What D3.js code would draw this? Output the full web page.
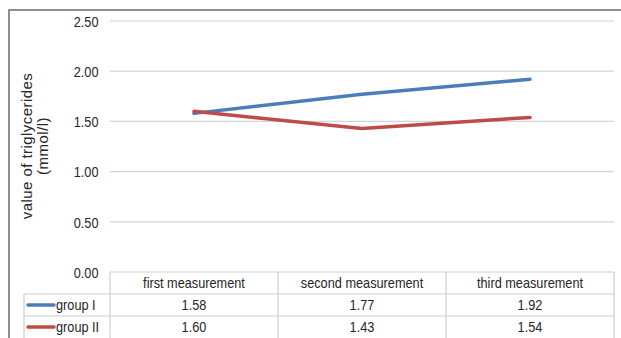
<!DOCTYPE html>
<html>
<head>
<meta charset="utf-8">
<script src="https://cdn.jsdelivr.net/npm/d3@7"></script>
<style>
  html, body { margin: 0; padding: 0; background: #fff; }
  svg { display: block; font-family: "Liberation Sans", Arial, sans-serif; }
</style>
</head>
<body>
<svg id="chart" width="621" height="338"></svg>
<script>
const categories = ["first measurement", "second measurement", "third measurement"];
const seriesNames = ["group I", "group II"];
const groupI = [1.58, 1.77, 1.92];
const groupII = [1.60, 1.43, 1.54];
const yTicks = [0, 0.5, 1.0, 1.5, 2.0, 2.5];
const colors = ["#4a7ebb", "#be4b48"];
const yTitle = ["value of triglycerides", "(mmol/l)"];

const series = [
  { name: seriesNames[0], values: groupI, color: colors[0] },
  { name: seriesNames[1], values: groupII, color: colors[1] }
];

const svg = d3.select("#chart");
const W = 621, H = 338;
const plotLeft = 110, plotRight = 614, plotTop = 21, plotBottom = 272;
const textColor = "#262626";
const FS = 14.8, SX = 0.86;

const x = d3.scaleBand().domain(categories).range([plotLeft, plotRight]);
const y = d3.scaleLinear().domain([0, 2.5]).range([plotBottom, plotTop]);

function narrowText(sel, xf, yf) {
  return sel.attr("transform", (d, i) => `translate(${xf(d, i)},${yf(d, i)}) scale(${SX},1)`)
    .attr("font-size", FS + "px").attr("fill", textColor).attr("dy", "0.36em");
}

// outer frame (top and left)
svg.append("path")
  .attr("d", `M9,${H} L9,10 L${W},10`)
  .attr("fill", "none").attr("stroke", "#6b6b6b").attr("stroke-width", 1.5);

// gridlines
svg.append("g").selectAll("line")
  .data(yTicks.filter(d => d > 0))
  .join("line")
  .attr("x1", plotLeft).attr("x2", plotRight)
  .attr("y1", d => y(d)).attr("y2", d => y(d))
  .attr("stroke", "#d4d4d4").attr("stroke-width", 1.2);

// y tick labels
const fmt = d3.format(".2f");
narrowText(
  svg.append("g").selectAll("text").data(yTicks).join("text")
    .attr("text-anchor", "end").text(d => fmt(d)),
  d => 98.5, d => y(d) + 0.5);

// y title
const yt = svg.append("text")
  .attr("transform", `translate(36,146) rotate(-90)`)
  .attr("text-anchor", "middle")
  .attr("font-size", "15px").attr("letter-spacing", "0.45px").attr("fill", textColor);
yt.selectAll("tspan").data(yTitle).join("tspan")
  .attr("x", 0).attr("dy", (d, i) => i === 0 ? "-0.25em" : "1.05em")
  .text(d => d);

// data table
const rowH = 22;
const tableTop = plotBottom;
const legendLeft = 24;
const tbl = svg.append("g");
const gridColor = "#cfcfcf";
tbl.append("line").attr("x1", plotLeft).attr("x2", plotRight)
  .attr("y1", tableTop).attr("y2", tableTop).attr("stroke", gridColor).attr("stroke-width", 1.2);
[1, 2].forEach(r => {
  tbl.append("line").attr("x1", legendLeft).attr("x2", plotRight)
    .attr("y1", tableTop + r * rowH).attr("y2", tableTop + r * rowH)
    .attr("stroke", gridColor).attr("stroke-width", 1.2);
});
const colEdges = [plotLeft].concat(categories.map(c => x(c) + x.bandwidth()));
colEdges.forEach(xe => {
  tbl.append("line").attr("x1", xe).attr("x2", xe)
    .attr("y1", tableTop).attr("y2", H)
    .attr("stroke", gridColor).attr("stroke-width", 1.2);
});
tbl.append("line").attr("x1", legendLeft).attr("x2", legendLeft)
  .attr("y1", tableTop + rowH).attr("y2", H)
  .attr("stroke", gridColor).attr("stroke-width", 1.2);

// header texts
narrowText(
  tbl.selectAll("text.hdr").data(categories).join("text")
    .attr("class", "hdr").attr("text-anchor", "middle").text(d => d),
  d => x(d) + x.bandwidth() / 2, d => tableTop + rowH / 2);

// rows
series.forEach((s, i) => {
  const cy = tableTop + rowH * (i + 1) + rowH / 2;
  tbl.append("line").attr("x1", 28).attr("x2", 54).attr("y1", cy).attr("y2", cy)
    .attr("stroke", s.color).attr("stroke-width", 3.5).attr("stroke-linecap", "round");
  narrowText(tbl.append("text").datum(s.name).text(s.name), () => 56, () => cy);
  narrowText(
    tbl.selectAll(null).data(s.values).join("text")
      .attr("text-anchor", "middle").text(d => d.toFixed(2)),
    (d, j) => x(categories[j]) + x.bandwidth() / 2, () => cy);
});

// lines
const line = d3.line()
  .x((d, i) => x(categories[i]) + x.bandwidth() / 2)
  .y(d => y(d));
svg.append("g").selectAll("path")
  .data(series)
  .join("path")
  .attr("d", d => line(d.values))
  .attr("fill", "none")
  .attr("stroke", d => d.color)
  .attr("stroke-width", 3.5)
  .attr("stroke-linecap", "round")
  .attr("stroke-linejoin", "round");
</script>
</body>
</html>
